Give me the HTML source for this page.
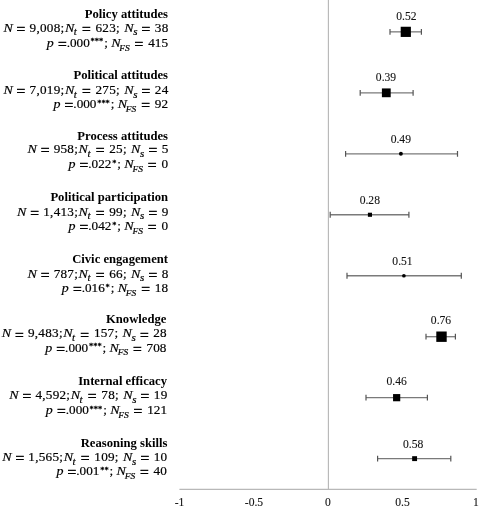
<!DOCTYPE html>
<html lang="en"><head><meta charset="utf-8"><title>Forest plot</title>
<style>
html,body{margin:0;padding:0;background:#fff}
svg{display:block}
text{font-family:"Liberation Serif","DejaVu Serif",serif;fill:#000}
.t{font-weight:bold;font-size:12.65px;text-anchor:end}
.m{font-size:12px;text-anchor:end;stroke:#000;stroke-width:.18px}
.i{font-style:italic;font-size:12.75px}
.s{font-style:italic;font-size:10.04px}
.s2{font-style:italic;font-size:8.57px}
.d{letter-spacing:0.23px}
.u{font-size:7.63px;stroke-width:.28px}
.e{font-size:14.11px;stroke-width:.5px}
.v{font-size:11.6px;text-anchor:middle;fill:#111;stroke:#111;stroke-width:.1px}
.a{font-size:11.6px;text-anchor:middle;fill:#111;stroke:#111;stroke-width:.1px}
.ci{stroke:#7a7a7a;stroke-width:1.3;fill:none}
.cap{stroke:#555;stroke-width:1.2;fill:none}
</style></head><body>
<svg width="480" height="508" viewBox="0 0 480 508">
<rect width="480" height="508" fill="#fff"/>
<line x1="328.4" y1="0" x2="328.4" y2="489.9" stroke="#b8b8b8" stroke-width="1.15"/>
<line x1="179.4" y1="489.4" x2="476.7" y2="489.4" stroke="#b8b8b8" stroke-width="1.15"/>

<text class="t" x="168" y="17.7">Policy attitudes</text>
<text class="m" transform="scale(1.1,1)" x="153.23" y="31.6"><tspan class="i">N</tspan><tspan class="e" dx="3.49" dy="2.4">=</tspan><tspan class="d" dx="3.79" dy="-2.4">9,008;</tspan><tspan class="i" dx="0.45">N</tspan><tspan class="s" dx="-0.5" dy="3.9">t</tspan><tspan class="e" dx="4.69" dy="-1.5">=</tspan><tspan class="d" dx="4.34" dy="-2.4">623;</tspan><tspan class="i" dx="3.87">N</tspan><tspan class="s" dx="-0.4" dy="3.9">s</tspan><tspan class="e" dx="3.77" dy="-1.5">=</tspan><tspan class="d" dx="4.09" dy="-2.4">38</tspan></text>
<text class="m" transform="scale(1.1,1)" x="152.73" y="46.7"><tspan class="i">p</tspan><tspan class="e" dx="3.71" dy="2.4">=</tspan><tspan dy="-2.4">.000</tspan><tspan class="u" dx="0.7" dy="-2.2">***</tspan><tspan dx="0.9" dy="2.2">;</tspan><tspan class="i" dx="2.99">N</tspan><tspan class="s2" dx="-1.15" dy="3.9">FS</tspan><tspan class="e" dx="4.41" dy="-1.5">=</tspan><tspan dx="4.44" dy="-2.4">415</tspan></text>
<path class="ci" d="M390.0 31.85H421.4"/>
<path class="cap" d="M390.0 28.95V34.75M421.4 28.95V34.75"/>
<rect x="400.70" y="26.75" width="10.2" height="10.2" fill="#000"/>
<text class="v" x="406.4" y="19.7">0.52</text>
<text class="t" x="168" y="79.4">Political attitudes</text>
<text class="m" transform="scale(1.1,1)" x="153.23" y="94.0"><tspan class="i">N</tspan><tspan class="e" dx="3.49" dy="2.4">=</tspan><tspan class="d" dx="3.79" dy="-2.4">7,019;</tspan><tspan class="i" dx="0.45">N</tspan><tspan class="s" dx="-0.5" dy="3.9">t</tspan><tspan class="e" dx="4.69" dy="-1.5">=</tspan><tspan class="d" dx="4.34" dy="-2.4">275;</tspan><tspan class="i" dx="3.87">N</tspan><tspan class="s" dx="-0.4" dy="3.9">s</tspan><tspan class="e" dx="3.77" dy="-1.5">=</tspan><tspan class="d" dx="4.09" dy="-2.4">24</tspan></text>
<text class="m" transform="scale(1.1,1)" x="152.73" y="108.0"><tspan class="i">p</tspan><tspan class="e" dx="3.71" dy="2.4">=</tspan><tspan dy="-2.4">.000</tspan><tspan class="u" dx="0.7" dy="-2.2">***</tspan><tspan dx="0.9" dy="2.2">;</tspan><tspan class="i" dx="2.99">N</tspan><tspan class="s2" dx="-1.15" dy="3.9">FS</tspan><tspan class="e" dx="4.41" dy="-1.5">=</tspan><tspan dx="4.44" dy="-2.4">92</tspan></text>
<path class="ci" d="M360.2 92.82H413.1"/>
<path class="cap" d="M360.2 89.92V95.72M413.1 89.92V95.72"/>
<rect x="381.90" y="88.42" width="8.8" height="8.8" fill="#000"/>
<text class="v" x="386.0" y="80.7">0.39</text>
<text class="t" x="168" y="139.7">Process attitudes</text>
<text class="m" transform="scale(1.1,1)" x="153.23" y="153.0"><tspan class="i">N</tspan><tspan class="e" dx="3.49" dy="2.4">=</tspan><tspan class="d" dx="3.79" dy="-2.4">958;</tspan><tspan class="i" dx="0.45">N</tspan><tspan class="s" dx="-0.5" dy="3.9">t</tspan><tspan class="e" dx="4.69" dy="-1.5">=</tspan><tspan class="d" dx="4.34" dy="-2.4">25;</tspan><tspan class="i" dx="3.87">N</tspan><tspan class="s" dx="-0.4" dy="3.9">s</tspan><tspan class="e" dx="3.77" dy="-1.5">=</tspan><tspan class="d" dx="4.09" dy="-2.4">5</tspan></text>
<text class="m" transform="scale(1.1,1)" x="152.73" y="168.0"><tspan class="i">p</tspan><tspan class="e" dx="3.71" dy="2.4">=</tspan><tspan dy="-2.4">.022</tspan><tspan class="u" dx="0.7" dy="-2.2">*</tspan><tspan dx="0.9" dy="2.2">;</tspan><tspan class="i" dx="2.99">N</tspan><tspan class="s2" dx="-1.15" dy="3.9">FS</tspan><tspan class="e" dx="4.41" dy="-1.5">=</tspan><tspan dx="4.44" dy="-2.4">0</tspan></text>
<path class="ci" d="M345.6 153.79H457.5"/>
<path class="cap" d="M345.6 150.89V156.69M457.5 150.89V156.69"/>
<circle cx="400.9" cy="153.79" r="1.95" fill="#000"/>
<text class="v" x="400.8" y="142.9">0.49</text>
<text class="t" x="168" y="200.9">Political participation</text>
<text class="m" transform="scale(1.1,1)" x="153.23" y="215.6"><tspan class="i">N</tspan><tspan class="e" dx="3.49" dy="2.4">=</tspan><tspan class="d" dx="3.79" dy="-2.4">1,413;</tspan><tspan class="i" dx="0.45">N</tspan><tspan class="s" dx="-0.5" dy="3.9">t</tspan><tspan class="e" dx="4.69" dy="-1.5">=</tspan><tspan class="d" dx="4.34" dy="-2.4">99;</tspan><tspan class="i" dx="3.87">N</tspan><tspan class="s" dx="-0.4" dy="3.9">s</tspan><tspan class="e" dx="3.77" dy="-1.5">=</tspan><tspan class="d" dx="4.09" dy="-2.4">9</tspan></text>
<text class="m" transform="scale(1.1,1)" x="152.73" y="230.0"><tspan class="i">p</tspan><tspan class="e" dx="3.71" dy="2.4">=</tspan><tspan dy="-2.4">.042</tspan><tspan class="u" dx="0.7" dy="-2.2">*</tspan><tspan dx="0.9" dy="2.2">;</tspan><tspan class="i" dx="2.99">N</tspan><tspan class="s2" dx="-1.15" dy="3.9">FS</tspan><tspan class="e" dx="4.41" dy="-1.5">=</tspan><tspan dx="4.44" dy="-2.4">0</tspan></text>
<path class="ci" d="M330.2 214.76H408.9"/>
<path class="cap" d="M330.2 211.86V217.66M408.9 211.86V217.66"/>
<rect x="367.90" y="212.71" width="4.1" height="4.1" fill="#000"/>
<text class="v" x="369.8" y="203.8">0.28</text>
<text class="t" x="168" y="263.0">Civic engagement</text>
<text class="m" transform="scale(1.1,1)" x="153.23" y="277.6"><tspan class="i">N</tspan><tspan class="e" dx="3.49" dy="2.4">=</tspan><tspan class="d" dx="3.79" dy="-2.4">787;</tspan><tspan class="i" dx="0.45">N</tspan><tspan class="s" dx="-0.5" dy="3.9">t</tspan><tspan class="e" dx="4.69" dy="-1.5">=</tspan><tspan class="d" dx="4.34" dy="-2.4">66;</tspan><tspan class="i" dx="3.87">N</tspan><tspan class="s" dx="-0.4" dy="3.9">s</tspan><tspan class="e" dx="3.77" dy="-1.5">=</tspan><tspan class="d" dx="4.09" dy="-2.4">8</tspan></text>
<text class="m" transform="scale(1.1,1)" x="152.73" y="292.0"><tspan class="i">p</tspan><tspan class="e" dx="3.71" dy="2.4">=</tspan><tspan dy="-2.4">.016</tspan><tspan class="u" dx="0.7" dy="-2.2">*</tspan><tspan dx="0.9" dy="2.2">;</tspan><tspan class="i" dx="2.99">N</tspan><tspan class="s2" dx="-1.15" dy="3.9">FS</tspan><tspan class="e" dx="4.41" dy="-1.5">=</tspan><tspan dx="4.44" dy="-2.4">18</tspan></text>
<path class="ci" d="M347.0 275.73H461.3"/>
<path class="cap" d="M347.0 272.83V278.63M461.3 272.83V278.63"/>
<circle cx="403.9" cy="275.73" r="1.85" fill="#000"/>
<text class="v" x="402.5" y="265.0">0.51</text>
<text class="t" x="166.4" y="322.8">Knowledge</text>
<text class="m" transform="scale(1.1,1)" x="151.77" y="337.4"><tspan class="i">N</tspan><tspan class="e" dx="3.49" dy="2.4">=</tspan><tspan class="d" dx="3.79" dy="-2.4">9,483;</tspan><tspan class="i" dx="0.45">N</tspan><tspan class="s" dx="-0.5" dy="3.9">t</tspan><tspan class="e" dx="4.69" dy="-1.5">=</tspan><tspan class="d" dx="4.34" dy="-2.4">157;</tspan><tspan class="i" dx="3.87">N</tspan><tspan class="s" dx="-0.4" dy="3.9">s</tspan><tspan class="e" dx="3.77" dy="-1.5">=</tspan><tspan class="d" dx="4.09" dy="-2.4">28</tspan></text>
<text class="m" transform="scale(1.1,1)" x="151.27" y="351.6"><tspan class="i">p</tspan><tspan class="e" dx="3.71" dy="2.4">=</tspan><tspan dy="-2.4">.000</tspan><tspan class="u" dx="0.7" dy="-2.2">***</tspan><tspan dx="0.9" dy="2.2">;</tspan><tspan class="i" dx="2.99">N</tspan><tspan class="s2" dx="-1.15" dy="3.9">FS</tspan><tspan class="e" dx="4.41" dy="-1.5">=</tspan><tspan dx="4.44" dy="-2.4">708</tspan></text>
<path class="ci" d="M426.0 336.7H455.4"/>
<path class="cap" d="M426.0 333.80V339.60M455.4 333.80V339.60"/>
<rect x="436.30" y="331.50" width="10.4" height="10.4" fill="#000"/>
<text class="v" x="441.0" y="324.3">0.76</text>
<text class="t" x="167" y="384.5">Internal efficacy</text>
<text class="m" transform="scale(1.1,1)" x="152.32" y="399.1"><tspan class="i">N</tspan><tspan class="e" dx="3.49" dy="2.4">=</tspan><tspan class="d" dx="3.79" dy="-2.4">4,592;</tspan><tspan class="i" dx="0.45">N</tspan><tspan class="s" dx="-0.5" dy="3.9">t</tspan><tspan class="e" dx="4.69" dy="-1.5">=</tspan><tspan class="d" dx="4.34" dy="-2.4">78;</tspan><tspan class="i" dx="3.87">N</tspan><tspan class="s" dx="-0.4" dy="3.9">s</tspan><tspan class="e" dx="3.77" dy="-1.5">=</tspan><tspan class="d" dx="4.09" dy="-2.4">19</tspan></text>
<text class="m" transform="scale(1.1,1)" x="151.82" y="414.1"><tspan class="i">p</tspan><tspan class="e" dx="3.71" dy="2.4">=</tspan><tspan dy="-2.4">.000</tspan><tspan class="u" dx="0.7" dy="-2.2">***</tspan><tspan dx="0.9" dy="2.2">;</tspan><tspan class="i" dx="2.99">N</tspan><tspan class="s2" dx="-1.15" dy="3.9">FS</tspan><tspan class="e" dx="4.41" dy="-1.5">=</tspan><tspan dx="4.44" dy="-2.4">121</tspan></text>
<path class="ci" d="M366.0 397.67H427.4"/>
<path class="cap" d="M366.0 394.77V400.57M427.4 394.77V400.57"/>
<rect x="393.05" y="394.07" width="7.2" height="7.2" fill="#000"/>
<text class="v" x="396.6" y="385.3">0.46</text>
<text class="t" x="167.5" y="446.5">Reasoning skills</text>
<text class="m" transform="scale(1.1,1)" x="152.14" y="461.1"><tspan class="i">N</tspan><tspan class="e" dx="3.49" dy="2.4">=</tspan><tspan class="d" dx="3.79" dy="-2.4">1,565;</tspan><tspan class="i" dx="0.45">N</tspan><tspan class="s" dx="-0.5" dy="3.9">t</tspan><tspan class="e" dx="4.69" dy="-1.5">=</tspan><tspan class="d" dx="4.34" dy="-2.4">109;</tspan><tspan class="i" dx="3.87">N</tspan><tspan class="s" dx="-0.4" dy="3.9">s</tspan><tspan class="e" dx="3.77" dy="-1.5">=</tspan><tspan class="d" dx="4.09" dy="-2.4">10</tspan></text>
<text class="m" transform="scale(1.1,1)" x="151.64" y="475.0"><tspan class="i">p</tspan><tspan class="e" dx="3.71" dy="2.4">=</tspan><tspan dy="-2.4">.001</tspan><tspan class="u" dx="0.7" dy="-2.2">**</tspan><tspan dx="0.9" dy="2.2">;</tspan><tspan class="i" dx="2.99">N</tspan><tspan class="s2" dx="-1.15" dy="3.9">FS</tspan><tspan class="e" dx="4.41" dy="-1.5">=</tspan><tspan dx="4.44" dy="-2.4">40</tspan></text>
<path class="ci" d="M377.6 458.64H450.8"/>
<path class="cap" d="M377.6 455.74V461.54M450.8 455.74V461.54"/>
<rect x="412.15" y="456.19" width="4.9" height="4.9" fill="#000"/>
<text class="v" x="413.1" y="447.8">0.58</text>
<text class="a" x="179.5" y="506.2">-1</text>
<text class="a" x="254" y="506.2">-0.5</text>
<text class="a" x="328" y="506.2">0</text>
<text class="a" x="402.5" y="506.2">0.5</text>
<text class="a" x="476" y="506.2">1</text>
</svg></body></html>
